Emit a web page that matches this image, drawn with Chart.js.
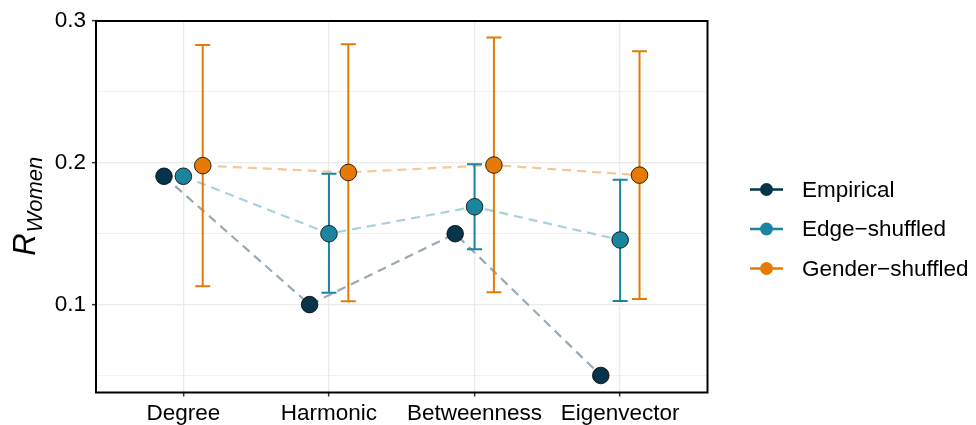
<!DOCTYPE html>
<html>
<head>
<meta charset="utf-8">
<script src="https://cdn.jsdelivr.net/npm/chart.js@4.4.1/dist/chart.umd.min.js"></script>
<style>
    html, body { margin: 0; padding: 0; background: #fff; }
    #wrap { width: 976px; height: 425px; }
</style>
</head>
<body>
<div id="wrap"><canvas id="chart" width="976" height="425"></canvas></div>
<script>
// Data
const categories = ['Degree', 'Harmonic', 'Betweenness', 'Eigenvector'];
const seriesNames = ['Empirical', 'Edge\u2212shuffled', 'Gender\u2212shuffled'];

const empirical = [0.1905, 0.100, 0.150, 0.050];

const edgeMean = [0.1905, 0.150, 0.169, 0.1456];
const edgeLow = [null, 0.1083, 0.139, 0.1026];
const edgeHigh = [null, 0.1923, 0.1989, 0.188];

const genderMean = [0.198, 0.1932, 0.1984, 0.1913];
const genderLow = [0.113, 0.1024, 0.1087, 0.104];
const genderHigh = [0.283, 0.2836, 0.2883, 0.2787];

const yTicks = [0.05, 0.1, 0.15, 0.2, 0.25, 0.3];

// Colours
const pointColors = ['#06344a', '#1b859f', '#e57b06'];
const lineColors = ['#98aab5', '#a7d2dd', '#f5c897'];

const FONT = "'Liberation Sans', Arial, sans-serif";
const TXT = 22.5;
const dodge = [-0.133, 0, 0.133];

const means = [empirical, edgeMean, genderMean];
const lows = [null, edgeLow, genderLow];
const highs = [null, edgeHigh, genderHigh];

const toPoints = (vals, s) => vals.map((v, i) => ({ x: i + 1 + dodge[s], y: v }));

const isMajor = (v) => Math.abs(v * 10 - Math.round(v * 10)) < 1e-6;

// points first (drawn last = on top), then the dashed lines
const datasets = [];
means.forEach((vals, s) => {
    datasets.push({
        label: seriesNames[s],
        data: toPoints(vals, s),
        showLine: false,
        pointRadius: 8.3,
        pointHoverRadius: 8.3,
        pointBackgroundColor: pointColors[s],
        pointBorderColor: '#000',
        pointBorderWidth: 0.8
    });
});
means.forEach((vals, s) => {
    datasets.push({
        label: seriesNames[s] + ' line',
        data: toPoints(vals, s),
        showLine: true,
        pointRadius: 0,
        borderColor: lineColors[s],
        borderWidth: 2.2,
        borderDash: [9, 6],
        tension: 0
    });
});

// error bars, drawn after all lines and before the points
const errorBars = {
    id: 'errorBars',
    afterDatasetDraw(chart, args) {
        if (args.index !== 3) return;
        const { ctx, scales: { x, y } } = chart;
        ctx.save();
        ctx.lineWidth = 2;
        for (let s = 1; s < 3; s++) {
            ctx.strokeStyle = pointColors[s];
            means[s].forEach((m, i) => {
                const lo = lows[s][i], hi = highs[s][i];
                if (lo == null || hi == null) return;
                const px = x.getPixelForValue(i + 1 + dodge[s]);
                const y1 = y.getPixelForValue(lo);
                const y2 = y.getPixelForValue(hi);
                ctx.beginPath();
                ctx.moveTo(px, y1); ctx.lineTo(px, y2);
                ctx.moveTo(px - 7.5, y1); ctx.lineTo(px + 7.5, y1);
                ctx.moveTo(px - 7.5, y2); ctx.lineTo(px + 7.5, y2);
                ctx.stroke();
            });
        }
        ctx.restore();
    }
};

// panel border, y title, legend
const decorations = {
    id: 'decorations',
    afterDraw(chart) {
        const { ctx, chartArea: a } = chart;
        ctx.save();
        ctx.strokeStyle = '#000';
        ctx.lineWidth = 2;
        ctx.strokeRect(a.left, a.top, a.right - a.left, a.bottom - a.top);

        // y axis title R_Women
        const cy = (a.top + a.bottom) / 2;
        ctx.translate(35, cy);
        ctx.rotate(-Math.PI / 2);
        ctx.fillStyle = '#000';
        ctx.textBaseline = 'alphabetic';
        ctx.font = 'italic 31px ' + FONT;
        const wR = ctx.measureText('R').width;
        ctx.font = 'italic 22px ' + FONT;
        const wSub = ctx.measureText('Women').width;
        const start = -(wR + wSub) / 2;
        ctx.font = 'italic 31px ' + FONT;
        ctx.textAlign = 'left';
        ctx.fillText('R', start, 0);
        ctx.font = 'italic 22px ' + FONT;
        ctx.fillText('Women', start + wR + 1, 7);
        ctx.restore();

        // legend
        ctx.save();
        const legendY = [189.5, 229, 268.5];
        seriesNames.forEach((name, s) => {
            const ly = legendY[s];
            ctx.strokeStyle = pointColors[s];
            ctx.lineWidth = 2.5;
            ctx.beginPath();
            ctx.moveTo(750, ly); ctx.lineTo(783, ly);
            ctx.stroke();
            ctx.fillStyle = pointColors[s];
            ctx.beginPath();
            ctx.arc(766.5, ly, 6.5, 0, Math.PI * 2);
            ctx.fill();
            ctx.fillStyle = '#000';
            ctx.font = TXT + 'px ' + FONT;
            ctx.textAlign = 'left';
            ctx.textBaseline = 'middle';
            ctx.fillText(name, 802, ly + 1);
        });
        ctx.restore();
    }
};

new Chart(document.getElementById('chart'), {
    type: 'scatter',
    data: { datasets },
    plugins: [errorBars, decorations],
    options: {
        responsive: false,
        animation: false,
        devicePixelRatio: 1,
        events: [],
        layout: { padding: { left: 0, top: 21, right: 268.5, bottom: 0 } },
        plugins: {
            legend: { display: false },
            tooltip: { enabled: false }
        },
        scales: {
            x: {
                type: 'linear',
                min: 0.4,
                max: 4.6,
                afterBuildTicks: (scale) => {
                    scale.ticks = categories.map((c, i) => ({ value: i + 1 }));
                },
                afterFit: (scale) => { scale.height = 425 - 392.5; },
                ticks: {
                    callback: (v) => categories[Math.round(v) - 1] || '',
                    color: '#000',
                    font: { family: FONT, size: TXT },
                    padding: 4,
                    maxRotation: 0,
                    autoSkip: false
                },
                grid: {
                    color: '#ebebeb',
                    lineWidth: 1.3,
                    tickLength: 4,
                    tickColor: '#333',
                    tickWidth: 1.5
                },
                border: { display: false }
            },
            y: {
                min: 0.038,
                max: 0.3,
                afterBuildTicks: (scale) => {
                    scale.ticks = yTicks.map(v => ({ value: v }));
                },
                afterFit: (scale) => { scale.width = 96; },
                ticks: {
                    callback: (v) => isMajor(v) ? v.toFixed(1) : '',
                    color: '#000',
                    font: { family: FONT, size: TXT },
                    padding: 6,
                    autoSkip: false
                },
                grid: {
                    color: '#ebebeb',
                    lineWidth: (c) => (c.tick && isMajor(c.tick.value)) ? 1.3 : 0.7,
                    tickLength: 4,
                    tickColor: (c) => (c.tick && isMajor(c.tick.value)) ? '#333' : 'rgba(0,0,0,0)',
                    tickWidth: 1.5
                },
                border: { display: false }
            }
        }
    }
});
</script>
</body>
</html>
